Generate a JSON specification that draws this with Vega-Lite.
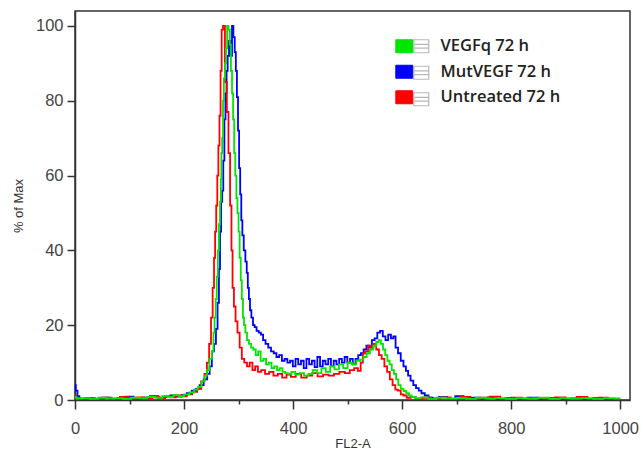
{
  "$schema": "https://vega.github.io/schema/vega-lite/v6.json",
  "autosize": {"type": "none"},
  "padding": {"left": 75, "top": 11, "right": 13, "bottom": 59},
  "width": 555,
  "height": 389,
  "background": "white",
  "config": {
    "view": {"stroke": "#333", "strokeWidth": 1.5},
    "axis": {
      "labelFont": "Liberation Sans",
      "labelFontSize": 16.5,
      "labelColor": "#444",
      "titleFont": "Liberation Sans",
      "titleFontSize": 13,
      "titleFontWeight": "normal",
      "titleColor": "#333",
      "domainColor": "#333",
      "domainWidth": 1.5,
      "tickColor": "#333",
      "tickWidth": 1.5,
      "grid": false,
      "labelOverlap": false,
      "labelFlush": false
    }
  },
  "datasets": {
    "hist": [
      {"s": "MutVEGF 72 h", "x": 0, "y": 4},
      {"s": "MutVEGF 72 h", "x": 3, "y": 2.5},
      {"s": "MutVEGF 72 h", "x": 6, "y": 1},
      {"s": "MutVEGF 72 h", "x": 10, "y": 0.3},
      {"s": "MutVEGF 72 h", "x": 25, "y": 0.5},
      {"s": "MutVEGF 72 h", "x": 40, "y": 0.2},
      {"s": "MutVEGF 72 h", "x": 55, "y": 0.6},
      {"s": "MutVEGF 72 h", "x": 70, "y": 0.3},
      {"s": "MutVEGF 72 h", "x": 85, "y": 0.5},
      {"s": "MutVEGF 72 h", "x": 100, "y": 0.9},
      {"s": "MutVEGF 72 h", "x": 115, "y": 0.4},
      {"s": "MutVEGF 72 h", "x": 130, "y": 0.6},
      {"s": "MutVEGF 72 h", "x": 145, "y": 1.0},
      {"s": "MutVEGF 72 h", "x": 160, "y": 0.5},
      {"s": "MutVEGF 72 h", "x": 170, "y": 0.8},
      {"s": "MutVEGF 72 h", "x": 180, "y": 1.2},
      {"s": "MutVEGF 72 h", "x": 190, "y": 0.9},
      {"s": "MutVEGF 72 h", "x": 200, "y": 1.3},
      {"s": "MutVEGF 72 h", "x": 210, "y": 1.8},
      {"s": "MutVEGF 72 h", "x": 218, "y": 2.5},
      {"s": "MutVEGF 72 h", "x": 225, "y": 3},
      {"s": "MutVEGF 72 h", "x": 232, "y": 4},
      {"s": "MutVEGF 72 h", "x": 240, "y": 5.5},
      {"s": "MutVEGF 72 h", "x": 245, "y": 7},
      {"s": "MutVEGF 72 h", "x": 249, "y": 9},
      {"s": "MutVEGF 72 h", "x": 253, "y": 13},
      {"s": "MutVEGF 72 h", "x": 257, "y": 15},
      {"s": "MutVEGF 72 h", "x": 260, "y": 19},
      {"s": "MutVEGF 72 h", "x": 263, "y": 26},
      {"s": "MutVEGF 72 h", "x": 265, "y": 35},
      {"s": "MutVEGF 72 h", "x": 267, "y": 45},
      {"s": "MutVEGF 72 h", "x": 269, "y": 53},
      {"s": "MutVEGF 72 h", "x": 271, "y": 56},
      {"s": "MutVEGF 72 h", "x": 273, "y": 64},
      {"s": "MutVEGF 72 h", "x": 275, "y": 75},
      {"s": "MutVEGF 72 h", "x": 277, "y": 82},
      {"s": "MutVEGF 72 h", "x": 279, "y": 88},
      {"s": "MutVEGF 72 h", "x": 281, "y": 92},
      {"s": "MutVEGF 72 h", "x": 284, "y": 96},
      {"s": "MutVEGF 72 h", "x": 287, "y": 92},
      {"s": "MutVEGF 72 h", "x": 289, "y": 100},
      {"s": "MutVEGF 72 h", "x": 292, "y": 97},
      {"s": "MutVEGF 72 h", "x": 294, "y": 93},
      {"s": "MutVEGF 72 h", "x": 296, "y": 88},
      {"s": "MutVEGF 72 h", "x": 298, "y": 81},
      {"s": "MutVEGF 72 h", "x": 300, "y": 72},
      {"s": "MutVEGF 72 h", "x": 302, "y": 62},
      {"s": "MutVEGF 72 h", "x": 304, "y": 55},
      {"s": "MutVEGF 72 h", "x": 306, "y": 48},
      {"s": "MutVEGF 72 h", "x": 308, "y": 44},
      {"s": "MutVEGF 72 h", "x": 311, "y": 40},
      {"s": "MutVEGF 72 h", "x": 314, "y": 37},
      {"s": "MutVEGF 72 h", "x": 316, "y": 34},
      {"s": "MutVEGF 72 h", "x": 318, "y": 30},
      {"s": "MutVEGF 72 h", "x": 320, "y": 27},
      {"s": "MutVEGF 72 h", "x": 322, "y": 24},
      {"s": "MutVEGF 72 h", "x": 325, "y": 22},
      {"s": "MutVEGF 72 h", "x": 328, "y": 20},
      {"s": "MutVEGF 72 h", "x": 331, "y": 19.5},
      {"s": "MutVEGF 72 h", "x": 335, "y": 18.5},
      {"s": "MutVEGF 72 h", "x": 339, "y": 18},
      {"s": "MutVEGF 72 h", "x": 343, "y": 17.5},
      {"s": "MutVEGF 72 h", "x": 347, "y": 16},
      {"s": "MutVEGF 72 h", "x": 352, "y": 15},
      {"s": "MutVEGF 72 h", "x": 357, "y": 14},
      {"s": "MutVEGF 72 h", "x": 362, "y": 13},
      {"s": "MutVEGF 72 h", "x": 367, "y": 12.5},
      {"s": "MutVEGF 72 h", "x": 372, "y": 11.5},
      {"s": "MutVEGF 72 h", "x": 377, "y": 12},
      {"s": "MutVEGF 72 h", "x": 382, "y": 10.5},
      {"s": "MutVEGF 72 h", "x": 387, "y": 11},
      {"s": "MutVEGF 72 h", "x": 392, "y": 10},
      {"s": "MutVEGF 72 h", "x": 397, "y": 10.5},
      {"s": "MutVEGF 72 h", "x": 402, "y": 9},
      {"s": "MutVEGF 72 h", "x": 407, "y": 11},
      {"s": "MutVEGF 72 h", "x": 412, "y": 9.5},
      {"s": "MutVEGF 72 h", "x": 417, "y": 10.5},
      {"s": "MutVEGF 72 h", "x": 422, "y": 8.5},
      {"s": "MutVEGF 72 h", "x": 427, "y": 11},
      {"s": "MutVEGF 72 h", "x": 432, "y": 9.5},
      {"s": "MutVEGF 72 h", "x": 437, "y": 10.5},
      {"s": "MutVEGF 72 h", "x": 442, "y": 8.8},
      {"s": "MutVEGF 72 h", "x": 447, "y": 11.5},
      {"s": "MutVEGF 72 h", "x": 452, "y": 9},
      {"s": "MutVEGF 72 h", "x": 457, "y": 10.5},
      {"s": "MutVEGF 72 h", "x": 462, "y": 9.5},
      {"s": "MutVEGF 72 h", "x": 467, "y": 11},
      {"s": "MutVEGF 72 h", "x": 472, "y": 9},
      {"s": "MutVEGF 72 h", "x": 477, "y": 10.5},
      {"s": "MutVEGF 72 h", "x": 482, "y": 9.5},
      {"s": "MutVEGF 72 h", "x": 487, "y": 11},
      {"s": "MutVEGF 72 h", "x": 492, "y": 10},
      {"s": "MutVEGF 72 h", "x": 497, "y": 11.5},
      {"s": "MutVEGF 72 h", "x": 502, "y": 10},
      {"s": "MutVEGF 72 h", "x": 507, "y": 11},
      {"s": "MutVEGF 72 h", "x": 512, "y": 9.5},
      {"s": "MutVEGF 72 h", "x": 517, "y": 11},
      {"s": "MutVEGF 72 h", "x": 522, "y": 12},
      {"s": "MutVEGF 72 h", "x": 527, "y": 12.5},
      {"s": "MutVEGF 72 h", "x": 532, "y": 13.5},
      {"s": "MutVEGF 72 h", "x": 537, "y": 14.5},
      {"s": "MutVEGF 72 h", "x": 542, "y": 14},
      {"s": "MutVEGF 72 h", "x": 547, "y": 16},
      {"s": "MutVEGF 72 h", "x": 552, "y": 16.5},
      {"s": "MutVEGF 72 h", "x": 557, "y": 18},
      {"s": "MutVEGF 72 h", "x": 562, "y": 18.5},
      {"s": "MutVEGF 72 h", "x": 567, "y": 17},
      {"s": "MutVEGF 72 h", "x": 572, "y": 16},
      {"s": "MutVEGF 72 h", "x": 577, "y": 17.5},
      {"s": "MutVEGF 72 h", "x": 582, "y": 16.5},
      {"s": "MutVEGF 72 h", "x": 586, "y": 17},
      {"s": "MutVEGF 72 h", "x": 590, "y": 14},
      {"s": "MutVEGF 72 h", "x": 595, "y": 12.5},
      {"s": "MutVEGF 72 h", "x": 600, "y": 10.5},
      {"s": "MutVEGF 72 h", "x": 605, "y": 9},
      {"s": "MutVEGF 72 h", "x": 609, "y": 7.8},
      {"s": "MutVEGF 72 h", "x": 613, "y": 6.5},
      {"s": "MutVEGF 72 h", "x": 618, "y": 5.2},
      {"s": "MutVEGF 72 h", "x": 623, "y": 4},
      {"s": "MutVEGF 72 h", "x": 628, "y": 3.2},
      {"s": "MutVEGF 72 h", "x": 633, "y": 2.5},
      {"s": "MutVEGF 72 h", "x": 638, "y": 1.8},
      {"s": "MutVEGF 72 h", "x": 645, "y": 1.2},
      {"s": "MutVEGF 72 h", "x": 652, "y": 0.6},
      {"s": "MutVEGF 72 h", "x": 660, "y": 0.4},
      {"s": "MutVEGF 72 h", "x": 675, "y": 0.8},
      {"s": "MutVEGF 72 h", "x": 690, "y": 0.3},
      {"s": "MutVEGF 72 h", "x": 705, "y": 1.0},
      {"s": "MutVEGF 72 h", "x": 720, "y": 0.4},
      {"s": "MutVEGF 72 h", "x": 735, "y": 0.6},
      {"s": "MutVEGF 72 h", "x": 750, "y": 0.3},
      {"s": "MutVEGF 72 h", "x": 765, "y": 0.7},
      {"s": "MutVEGF 72 h", "x": 780, "y": 0.2},
      {"s": "MutVEGF 72 h", "x": 800, "y": 0.5},
      {"s": "MutVEGF 72 h", "x": 820, "y": 0.3},
      {"s": "MutVEGF 72 h", "x": 840, "y": 0.6},
      {"s": "MutVEGF 72 h", "x": 860, "y": 0.2},
      {"s": "MutVEGF 72 h", "x": 880, "y": 0.5},
      {"s": "MutVEGF 72 h", "x": 900, "y": 0.3},
      {"s": "MutVEGF 72 h", "x": 920, "y": 0.4},
      {"s": "MutVEGF 72 h", "x": 940, "y": 0.2},
      {"s": "MutVEGF 72 h", "x": 960, "y": 0.5},
      {"s": "MutVEGF 72 h", "x": 980, "y": 0.3},
      {"s": "MutVEGF 72 h", "x": 1000, "y": 0.3},

      {"s": "Untreated 72 h", "x": 0, "y": 1.2},
      {"s": "Untreated 72 h", "x": 5, "y": 0.5},
      {"s": "Untreated 72 h", "x": 15, "y": 0.3},
      {"s": "Untreated 72 h", "x": 30, "y": 0.5},
      {"s": "Untreated 72 h", "x": 45, "y": 0.2},
      {"s": "Untreated 72 h", "x": 60, "y": 0.6},
      {"s": "Untreated 72 h", "x": 75, "y": 0.3},
      {"s": "Untreated 72 h", "x": 90, "y": 0.8},
      {"s": "Untreated 72 h", "x": 105, "y": 0.4},
      {"s": "Untreated 72 h", "x": 120, "y": 0.7},
      {"s": "Untreated 72 h", "x": 135, "y": 0.4},
      {"s": "Untreated 72 h", "x": 150, "y": 0.9},
      {"s": "Untreated 72 h", "x": 160, "y": 0.5},
      {"s": "Untreated 72 h", "x": 170, "y": 1.0},
      {"s": "Untreated 72 h", "x": 180, "y": 0.7},
      {"s": "Untreated 72 h", "x": 190, "y": 1.2},
      {"s": "Untreated 72 h", "x": 200, "y": 1.0},
      {"s": "Untreated 72 h", "x": 210, "y": 1.5},
      {"s": "Untreated 72 h", "x": 220, "y": 2.2},
      {"s": "Untreated 72 h", "x": 228, "y": 3},
      {"s": "Untreated 72 h", "x": 235, "y": 5},
      {"s": "Untreated 72 h", "x": 240, "y": 7},
      {"s": "Untreated 72 h", "x": 244, "y": 10},
      {"s": "Untreated 72 h", "x": 248, "y": 15},
      {"s": "Untreated 72 h", "x": 251, "y": 22},
      {"s": "Untreated 72 h", "x": 254, "y": 30},
      {"s": "Untreated 72 h", "x": 256, "y": 38},
      {"s": "Untreated 72 h", "x": 258, "y": 45},
      {"s": "Untreated 72 h", "x": 260, "y": 52},
      {"s": "Untreated 72 h", "x": 262, "y": 60},
      {"s": "Untreated 72 h", "x": 264, "y": 68},
      {"s": "Untreated 72 h", "x": 266, "y": 76},
      {"s": "Untreated 72 h", "x": 268, "y": 88},
      {"s": "Untreated 72 h", "x": 270, "y": 99},
      {"s": "Untreated 72 h", "x": 273, "y": 100},
      {"s": "Untreated 72 h", "x": 277, "y": 85},
      {"s": "Untreated 72 h", "x": 280, "y": 77},
      {"s": "Untreated 72 h", "x": 283, "y": 66},
      {"s": "Untreated 72 h", "x": 286, "y": 52},
      {"s": "Untreated 72 h", "x": 288, "y": 40},
      {"s": "Untreated 72 h", "x": 290, "y": 30},
      {"s": "Untreated 72 h", "x": 293, "y": 25},
      {"s": "Untreated 72 h", "x": 296, "y": 21},
      {"s": "Untreated 72 h", "x": 300, "y": 18},
      {"s": "Untreated 72 h", "x": 304, "y": 14},
      {"s": "Untreated 72 h", "x": 308, "y": 11},
      {"s": "Untreated 72 h", "x": 313, "y": 10},
      {"s": "Untreated 72 h", "x": 318, "y": 9},
      {"s": "Untreated 72 h", "x": 323, "y": 10},
      {"s": "Untreated 72 h", "x": 328, "y": 8},
      {"s": "Untreated 72 h", "x": 333, "y": 9},
      {"s": "Untreated 72 h", "x": 338, "y": 7.5},
      {"s": "Untreated 72 h", "x": 345, "y": 8},
      {"s": "Untreated 72 h", "x": 352, "y": 7},
      {"s": "Untreated 72 h", "x": 360, "y": 7.5},
      {"s": "Untreated 72 h", "x": 368, "y": 6.5},
      {"s": "Untreated 72 h", "x": 376, "y": 7},
      {"s": "Untreated 72 h", "x": 384, "y": 6},
      {"s": "Untreated 72 h", "x": 392, "y": 6.8},
      {"s": "Untreated 72 h", "x": 400, "y": 6.2},
      {"s": "Untreated 72 h", "x": 410, "y": 7},
      {"s": "Untreated 72 h", "x": 420, "y": 6},
      {"s": "Untreated 72 h", "x": 430, "y": 6.5},
      {"s": "Untreated 72 h", "x": 440, "y": 7.2},
      {"s": "Untreated 72 h", "x": 450, "y": 6.3},
      {"s": "Untreated 72 h", "x": 460, "y": 6.8},
      {"s": "Untreated 72 h", "x": 470, "y": 6.5},
      {"s": "Untreated 72 h", "x": 480, "y": 7},
      {"s": "Untreated 72 h", "x": 490, "y": 7.5},
      {"s": "Untreated 72 h", "x": 500, "y": 7.2},
      {"s": "Untreated 72 h", "x": 508, "y": 8},
      {"s": "Untreated 72 h", "x": 516, "y": 8.5},
      {"s": "Untreated 72 h", "x": 522, "y": 7.8},
      {"s": "Untreated 72 h", "x": 526, "y": 10},
      {"s": "Untreated 72 h", "x": 530, "y": 12.5},
      {"s": "Untreated 72 h", "x": 535, "y": 13},
      {"s": "Untreated 72 h", "x": 540, "y": 14.5},
      {"s": "Untreated 72 h", "x": 545, "y": 14},
      {"s": "Untreated 72 h", "x": 550, "y": 15},
      {"s": "Untreated 72 h", "x": 555, "y": 13.5},
      {"s": "Untreated 72 h", "x": 560, "y": 12},
      {"s": "Untreated 72 h", "x": 565, "y": 11},
      {"s": "Untreated 72 h", "x": 570, "y": 9},
      {"s": "Untreated 72 h", "x": 575, "y": 7.5},
      {"s": "Untreated 72 h", "x": 580, "y": 5.5},
      {"s": "Untreated 72 h", "x": 585, "y": 4},
      {"s": "Untreated 72 h", "x": 590, "y": 2.8},
      {"s": "Untreated 72 h", "x": 595, "y": 2.5},
      {"s": "Untreated 72 h", "x": 600, "y": 1.5},
      {"s": "Untreated 72 h", "x": 605, "y": 1.2},
      {"s": "Untreated 72 h", "x": 612, "y": 0.6},
      {"s": "Untreated 72 h", "x": 620, "y": 0.8},
      {"s": "Untreated 72 h", "x": 630, "y": 0.3},
      {"s": "Untreated 72 h", "x": 645, "y": 0.6},
      {"s": "Untreated 72 h", "x": 662, "y": 0.2},
      {"s": "Untreated 72 h", "x": 680, "y": 0.7},
      {"s": "Untreated 72 h", "x": 698, "y": 0.3},
      {"s": "Untreated 72 h", "x": 716, "y": 0.8},
      {"s": "Untreated 72 h", "x": 734, "y": 0.3},
      {"s": "Untreated 72 h", "x": 752, "y": 0.6},
      {"s": "Untreated 72 h", "x": 770, "y": 0.9},
      {"s": "Untreated 72 h", "x": 790, "y": 0.3},
      {"s": "Untreated 72 h", "x": 810, "y": 0.6},
      {"s": "Untreated 72 h", "x": 830, "y": 0.2},
      {"s": "Untreated 72 h", "x": 850, "y": 0.5},
      {"s": "Untreated 72 h", "x": 870, "y": 0.3},
      {"s": "Untreated 72 h", "x": 890, "y": 0.7},
      {"s": "Untreated 72 h", "x": 910, "y": 0.2},
      {"s": "Untreated 72 h", "x": 930, "y": 0.8},
      {"s": "Untreated 72 h", "x": 950, "y": 0.3},
      {"s": "Untreated 72 h", "x": 970, "y": 0.6},
      {"s": "Untreated 72 h", "x": 985, "y": 0.3},
      {"s": "Untreated 72 h", "x": 1000, "y": 0.3},

      {"s": "VEGFq 72 h", "x": 0, "y": 0.8},
      {"s": "VEGFq 72 h", "x": 5, "y": 0.4},
      {"s": "VEGFq 72 h", "x": 20, "y": 0.5},
      {"s": "VEGFq 72 h", "x": 35, "y": 0.3},
      {"s": "VEGFq 72 h", "x": 50, "y": 0.6},
      {"s": "VEGFq 72 h", "x": 65, "y": 0.4},
      {"s": "VEGFq 72 h", "x": 80, "y": 0.5},
      {"s": "VEGFq 72 h", "x": 95, "y": 0.3},
      {"s": "VEGFq 72 h", "x": 110, "y": 0.6},
      {"s": "VEGFq 72 h", "x": 125, "y": 0.5},
      {"s": "VEGFq 72 h", "x": 140, "y": 0.8},
      {"s": "VEGFq 72 h", "x": 155, "y": 0.6},
      {"s": "VEGFq 72 h", "x": 165, "y": 1.0},
      {"s": "VEGFq 72 h", "x": 175, "y": 0.8},
      {"s": "VEGFq 72 h", "x": 185, "y": 1.3},
      {"s": "VEGFq 72 h", "x": 195, "y": 1.0},
      {"s": "VEGFq 72 h", "x": 205, "y": 1.5},
      {"s": "VEGFq 72 h", "x": 215, "y": 2.0},
      {"s": "VEGFq 72 h", "x": 222, "y": 2.8},
      {"s": "VEGFq 72 h", "x": 229, "y": 3.5},
      {"s": "VEGFq 72 h", "x": 235, "y": 5},
      {"s": "VEGFq 72 h", "x": 240, "y": 6.5},
      {"s": "VEGFq 72 h", "x": 244, "y": 8},
      {"s": "VEGFq 72 h", "x": 249, "y": 11},
      {"s": "VEGFq 72 h", "x": 253, "y": 13},
      {"s": "VEGFq 72 h", "x": 255, "y": 18},
      {"s": "VEGFq 72 h", "x": 257, "y": 22},
      {"s": "VEGFq 72 h", "x": 259, "y": 27},
      {"s": "VEGFq 72 h", "x": 261, "y": 33},
      {"s": "VEGFq 72 h", "x": 263, "y": 40},
      {"s": "VEGFq 72 h", "x": 265, "y": 47},
      {"s": "VEGFq 72 h", "x": 267, "y": 53},
      {"s": "VEGFq 72 h", "x": 268, "y": 59},
      {"s": "VEGFq 72 h", "x": 269, "y": 66},
      {"s": "VEGFq 72 h", "x": 271, "y": 70},
      {"s": "VEGFq 72 h", "x": 272, "y": 80},
      {"s": "VEGFq 72 h", "x": 274, "y": 86},
      {"s": "VEGFq 72 h", "x": 276, "y": 90},
      {"s": "VEGFq 72 h", "x": 278, "y": 94},
      {"s": "VEGFq 72 h", "x": 280, "y": 100},
      {"s": "VEGFq 72 h", "x": 283, "y": 99},
      {"s": "VEGFq 72 h", "x": 285, "y": 95},
      {"s": "VEGFq 72 h", "x": 287, "y": 88},
      {"s": "VEGFq 72 h", "x": 289, "y": 82},
      {"s": "VEGFq 72 h", "x": 291, "y": 75},
      {"s": "VEGFq 72 h", "x": 293, "y": 66},
      {"s": "VEGFq 72 h", "x": 295, "y": 60},
      {"s": "VEGFq 72 h", "x": 297, "y": 54},
      {"s": "VEGFq 72 h", "x": 299, "y": 50},
      {"s": "VEGFq 72 h", "x": 301, "y": 45},
      {"s": "VEGFq 72 h", "x": 303, "y": 38},
      {"s": "VEGFq 72 h", "x": 305, "y": 32},
      {"s": "VEGFq 72 h", "x": 307, "y": 27},
      {"s": "VEGFq 72 h", "x": 309, "y": 22},
      {"s": "VEGFq 72 h", "x": 311, "y": 20},
      {"s": "VEGFq 72 h", "x": 314, "y": 18},
      {"s": "VEGFq 72 h", "x": 317, "y": 16},
      {"s": "VEGFq 72 h", "x": 321, "y": 15},
      {"s": "VEGFq 72 h", "x": 325, "y": 14},
      {"s": "VEGFq 72 h", "x": 329, "y": 13.5},
      {"s": "VEGFq 72 h", "x": 334, "y": 12},
      {"s": "VEGFq 72 h", "x": 338, "y": 13},
      {"s": "VEGFq 72 h", "x": 343, "y": 10.5},
      {"s": "VEGFq 72 h", "x": 348, "y": 11},
      {"s": "VEGFq 72 h", "x": 353, "y": 9.5},
      {"s": "VEGFq 72 h", "x": 358, "y": 10},
      {"s": "VEGFq 72 h", "x": 363, "y": 8.5},
      {"s": "VEGFq 72 h", "x": 368, "y": 9},
      {"s": "VEGFq 72 h", "x": 373, "y": 8},
      {"s": "VEGFq 72 h", "x": 378, "y": 8.5},
      {"s": "VEGFq 72 h", "x": 383, "y": 7.5},
      {"s": "VEGFq 72 h", "x": 388, "y": 7.2},
      {"s": "VEGFq 72 h", "x": 394, "y": 7},
      {"s": "VEGFq 72 h", "x": 400, "y": 7.5},
      {"s": "VEGFq 72 h", "x": 408, "y": 6.8},
      {"s": "VEGFq 72 h", "x": 416, "y": 7.2},
      {"s": "VEGFq 72 h", "x": 424, "y": 6.5},
      {"s": "VEGFq 72 h", "x": 432, "y": 7},
      {"s": "VEGFq 72 h", "x": 440, "y": 8},
      {"s": "VEGFq 72 h", "x": 448, "y": 7.2},
      {"s": "VEGFq 72 h", "x": 456, "y": 8.5},
      {"s": "VEGFq 72 h", "x": 464, "y": 7.5},
      {"s": "VEGFq 72 h", "x": 472, "y": 9},
      {"s": "VEGFq 72 h", "x": 480, "y": 8.2},
      {"s": "VEGFq 72 h", "x": 488, "y": 9.5},
      {"s": "VEGFq 72 h", "x": 496, "y": 8.5},
      {"s": "VEGFq 72 h", "x": 504, "y": 10},
      {"s": "VEGFq 72 h", "x": 512, "y": 9.5},
      {"s": "VEGFq 72 h", "x": 520, "y": 10.5},
      {"s": "VEGFq 72 h", "x": 526, "y": 10.8},
      {"s": "VEGFq 72 h", "x": 532, "y": 11.5},
      {"s": "VEGFq 72 h", "x": 538, "y": 12.5},
      {"s": "VEGFq 72 h", "x": 544, "y": 13.5},
      {"s": "VEGFq 72 h", "x": 550, "y": 14.5},
      {"s": "VEGFq 72 h", "x": 555, "y": 15.5},
      {"s": "VEGFq 72 h", "x": 559, "y": 16},
      {"s": "VEGFq 72 h", "x": 563, "y": 15},
      {"s": "VEGFq 72 h", "x": 567, "y": 13.5},
      {"s": "VEGFq 72 h", "x": 571, "y": 12},
      {"s": "VEGFq 72 h", "x": 575, "y": 10.5},
      {"s": "VEGFq 72 h", "x": 579, "y": 9.5},
      {"s": "VEGFq 72 h", "x": 583, "y": 8},
      {"s": "VEGFq 72 h", "x": 587, "y": 7},
      {"s": "VEGFq 72 h", "x": 591, "y": 5.5},
      {"s": "VEGFq 72 h", "x": 595, "y": 4},
      {"s": "VEGFq 72 h", "x": 600, "y": 3},
      {"s": "VEGFq 72 h", "x": 605, "y": 2.4},
      {"s": "VEGFq 72 h", "x": 610, "y": 1.8},
      {"s": "VEGFq 72 h", "x": 615, "y": 1.2},
      {"s": "VEGFq 72 h", "x": 620, "y": 0.8},
      {"s": "VEGFq 72 h", "x": 628, "y": 0.5},
      {"s": "VEGFq 72 h", "x": 640, "y": 0.7},
      {"s": "VEGFq 72 h", "x": 655, "y": 0.3},
      {"s": "VEGFq 72 h", "x": 672, "y": 0.6},
      {"s": "VEGFq 72 h", "x": 690, "y": 0.4},
      {"s": "VEGFq 72 h", "x": 708, "y": 0.5},
      {"s": "VEGFq 72 h", "x": 726, "y": 0.3},
      {"s": "VEGFq 72 h", "x": 744, "y": 0.6},
      {"s": "VEGFq 72 h", "x": 762, "y": 0.4},
      {"s": "VEGFq 72 h", "x": 780, "y": 0.5},
      {"s": "VEGFq 72 h", "x": 800, "y": 0.3},
      {"s": "VEGFq 72 h", "x": 820, "y": 0.5},
      {"s": "VEGFq 72 h", "x": 840, "y": 0.4},
      {"s": "VEGFq 72 h", "x": 860, "y": 0.6},
      {"s": "VEGFq 72 h", "x": 880, "y": 0.3},
      {"s": "VEGFq 72 h", "x": 900, "y": 0.5},
      {"s": "VEGFq 72 h", "x": 920, "y": 0.4},
      {"s": "VEGFq 72 h", "x": 940, "y": 0.5},
      {"s": "VEGFq 72 h", "x": 960, "y": 0.3},
      {"s": "VEGFq 72 h", "x": 980, "y": 0.5},
      {"s": "VEGFq 72 h", "x": 1000, "y": 0.4}
    ]
  },
  "data": {"name": "hist"},
  "layer": [
    {
      "mark": {"type": "line", "interpolate": "step", "strokeWidth": 1.8, "clip": true},
      "encoding": {
        "x": {
          "field": "x", "type": "quantitative",
          "scale": {"domain": [0, 1018], "nice": false, "zero": false},
          "axis": {
            "title": "FL2-A",
            "format": "d",
            "values": [0,50,100,150,200,250,300,350,400,450,500,550,600,650,700,750,800,850,900,950,1000],
            "labelExpr": "datum.value % 200 === 0 ? datum.label : ''",
            "tickSize": {"condition": {"test": "datum.value % 200 === 0", "value": 9}, "value": 4},
            "labelPadding": 11,
            "titlePadding": 1
          }
        },
        "y": {
          "field": "y", "type": "quantitative",
          "scale": {"domain": [0, 104], "nice": false, "zero": false},
          "axis": {
            "title": "% of Max",
            "values": [0,5,10,15,20,25,30,35,40,45,50,55,60,65,70,75,80,85,90,95,100],
            "labelExpr": "datum.value % 20 === 0 ? datum.label : ''",
            "tickSize": {"condition": {"test": "datum.value % 20 === 0", "value": 8}, "value": 4},
            "labelPadding": 4,
            "titlePadding": 10
          }
        },
        "color": {
          "field": "s", "type": "nominal",
          "scale": {
            "domain": ["VEGFq 72 h", "MutVEGF 72 h", "Untreated 72 h"],
            "range": ["#00e600", "#0000ff", "#ff0000"]
          },
          "legend": {
            "title": null,
            "orient": "none",
            "legendX": 321,
            "legendY": 27,
            "symbolType": "M-1.3,-1H1.3V1H-1.3Z",
            "symbolSize": 169,
            "symbolOpacity": 1,
            "labelFont": "Open Sans",
            "labelFontSize": 16.5,
            "labelFontWeight": 600,
            "labelColor": "#222",
            "labelOffset": 28,
            "rowPadding": 7.5,
            "padding": 0,
            "encode": {
              "symbols": {
                "update": {
                  "fill": {"scale": "color", "field": "value"},
                  "stroke": {"value": "#8a8a8a"},
                  "strokeWidth": {"value": 1},
                  "opacity": {"value": 1}
                }
              }
            }
          }
        }
      }
    },
    {
      "mark": {"type": "point", "filled": false, "color": "#9a9a9a", "strokeWidth": 1.2},
      "encoding": {
        "x": {"field": "x", "type": "quantitative"},
        "y": {"field": "nodata", "type": "quantitative"},
        "shape": {
          "field": "s", "type": "nominal",
          "scale": {
            "domain": ["Untreated 72 h", "MutVEGF 72 h", "VEGFq 72 h"],
            "range": ["M-1.15,-1H1.15V1H-1.15Z M-1.15,-0.3H1.15 M-1.15,0.3H1.15", "M-1.15,-1H1.15V1H-1.15Z M-1.15,-0.3H1.15 M-1.15,0.3H1.15", "M-1.15,-1H1.15V1H-1.15Z M-1.15,-0.3H1.15 M-1.15,0.3H1.15"]
          },
          "legend": {
            "title": null,
            "orient": "none",
            "legendX": 338,
            "legendY": 27,
            "symbolSize": 169,
            "symbolStrokeWidth": 1.2,
            "labelExpr": "''",
            "labelFontSize": 16.5,
            "rowPadding": 7.5,
            "padding": 0
          }
        }
      }
    }
  ]
}
